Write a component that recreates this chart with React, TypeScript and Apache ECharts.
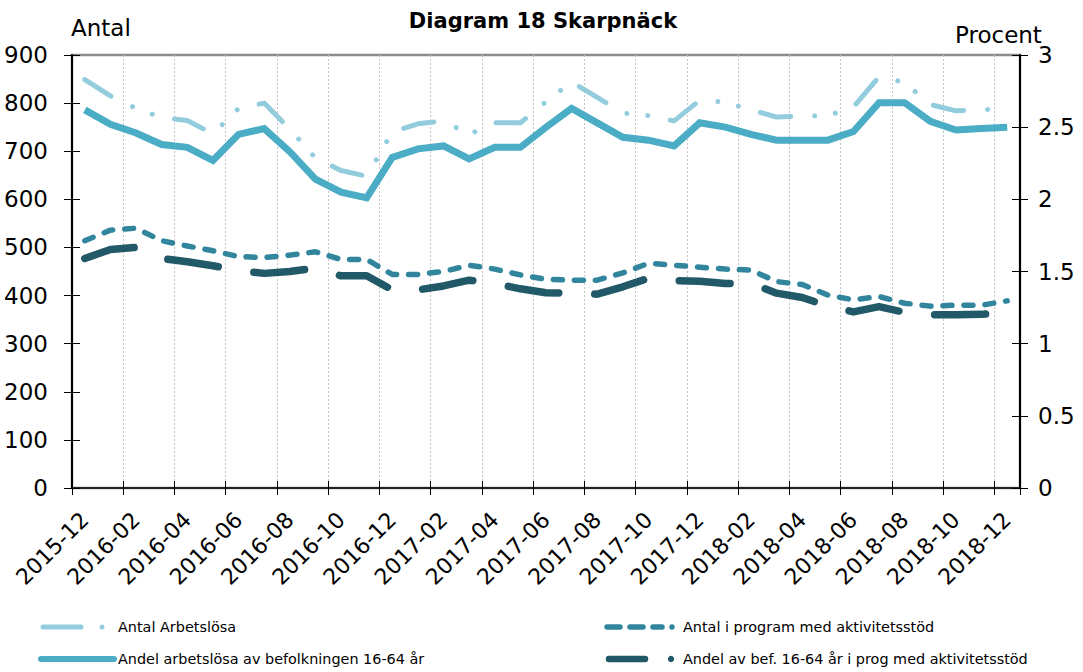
import React, { useEffect, useRef } from "react";
import * as echarts from "echarts";

const months = [
  "2015-12", "2016-01", "2016-02", "2016-03", "2016-04", "2016-05", "2016-06", "2016-07", "2016-08", "2016-09",
  "2016-10", "2016-11", "2016-12", "2017-01", "2017-02", "2017-03", "2017-04", "2017-05", "2017-06", "2017-07",
  "2017-08", "2017-09", "2017-10", "2017-11", "2017-12", "2018-01", "2018-02", "2018-03", "2018-04", "2018-05",
  "2018-06", "2018-07", "2018-08", "2018-09", "2018-10", "2018-11", "2018-12",
];

const antalArbetslosa = [
  849, 815, 789, 770, 764, 736, 789, 800, 746, 686, 660, 648, 740, 757, 763, 735, 759, 759, 803, 844,
  812, 779, 774, 763, 806, 802, 786, 771, 773, 774, 792, 855, 843, 797, 784, 786, 789,
];

const antalIProgram = [
  514, 536, 540, 514, 503, 493, 481, 479, 484, 491, 475, 475, 444, 444, 450, 463, 455, 443, 434, 432,
  432, 447, 467, 463, 459, 455, 453, 429, 423, 401, 391, 398, 384, 378, 380, 380, 389,
];

const andelArbetslosa = [
  2.62, 2.52, 2.46, 2.38, 2.36, 2.27, 2.45, 2.49, 2.33, 2.14, 2.05, 2.01, 2.29, 2.35, 2.37, 2.28, 2.36, 2.36, 2.5, 2.63,
  2.53, 2.43, 2.41, 2.37, 2.53, 2.5, 2.45, 2.41, 2.41, 2.41, 2.47, 2.67, 2.67, 2.54, 2.48, 2.49, 2.5,
];

const andelIProgram = [
  1.59, 1.653, 1.667, 1.59, 1.567, 1.54, 1.507, 1.487, 1.5, 1.523, 1.47, 1.47, 1.373, 1.373, 1.4, 1.44, 1.417, 1.38, 1.353, 1.35,
  1.343, 1.394, 1.453, 1.437, 1.433, 1.417, 1.417, 1.35, 1.32, 1.26, 1.22, 1.257, 1.217, 1.2, 1.2, 1.203, 1.215,
];

const seriesNames = [
  "Antal Arbetslösa",
  "Andel arbetslösa av befolkningen 16-64 år",
  "Antal i program med aktivitetsstöd",
  "Andel av bef. 16-64 år i prog med aktivitetsstöd",
];

const COLORS = {
  light: "#93CDDD",
  mid: "#4BACC6",
  teal: "#31859C",
  dark: "#215968",
};

const FONT = "DejaVu Sans";
const LEGEND_FS = 14.4;

export default function App() {
  const ref = useRef<HTMLDivElement>(null);

  useEffect(() => {
    if (!ref.current) return;
    const chart = echarts.init(ref.current, undefined, { renderer: "svg" });

    const labelStyle = { fontFamily: FONT, fontSize: 23, color: "#000" };

    const option: any = {
      animation: false,
      backgroundColor: "#fff",
      grid: {
        left: 72,
        right: 63,
        top: 55,
        bottom: 184,
        show: true,
        borderColor: "#8c8c8c",
        borderWidth: 2.5,
        backgroundColor: "transparent",
      },
      xAxis: [
        {
          type: "category",
          data: months,
          boundaryGap: true,
          position: "bottom",
          axisLine: { show: true, lineStyle: { color: "#000", width: 1.5 } },
          axisTick: { show: true, interval: 1, length: 7, lineStyle: { color: "#000", width: 1 } },
          axisLabel: {
            interval: 1,
            rotate: 45,
            margin: 28,
            fontFamily: FONT,
            fontSize: 22,
            color: "#000",
          },
          splitLine: {
            show: true,
            interval: 1,
            lineStyle: { color: "#c4c4c4", width: 1, type: [2, 2] },
          },
        },
        {
          type: "category",
          data: months,
          boundaryGap: true,
          position: "bottom",
          axisLine: { show: false },
          axisTick: { show: true, inside: true, interval: 1, length: 7, lineStyle: { color: "#000", width: 1 } },
          axisLabel: { show: false },
          splitLine: { show: false },
        },
      ],
      yAxis: [
        {
          type: "value",
          position: "left",
          min: 0,
          max: 900,
          interval: 100,
          axisLine: { show: true, lineStyle: { color: "#000", width: 2 } },
          axisTick: { show: true, length: 8, lineStyle: { color: "#000", width: 1 } },
          axisLabel: { ...labelStyle, margin: 24 },
          splitLine: { show: false },
        },
        {
          type: "value",
          position: "right",
          min: 0,
          max: 3,
          interval: 0.5,
          axisLine: { show: true, lineStyle: { color: "#000", width: 2 } },
          axisTick: { show: true, length: 8, lineStyle: { color: "#000", width: 1 } },
          axisLabel: { ...labelStyle, margin: 18 },
          splitLine: { show: false },
        },
        {
          type: "value",
          position: "left",
          min: 0,
          max: 900,
          interval: 100,
          axisLine: { show: false },
          axisTick: { show: true, inside: true, length: 8, lineStyle: { color: "#000", width: 1 } },
          axisLabel: { show: false },
          splitLine: { show: false },
        },
        {
          type: "value",
          position: "right",
          min: 0,
          max: 3,
          interval: 0.5,
          axisLine: { show: false },
          axisTick: { show: true, inside: true, length: 8, lineStyle: { color: "#000", width: 1 } },
          axisLabel: { show: false },
          splitLine: { show: false },
        },
      ],
      series: [
        {
          name: seriesNames[0],
          type: "line",
          xAxisIndex: 0,
          yAxisIndex: 0,
          data: antalArbetslosa,
          symbol: "none",
          z: 3,
          lineStyle: {
            color: COLORS.light,
            width: 5,
            type: [31, 24, 0.01, 21, 0.01, 23],
            cap: "round",
            join: "round",
          },
        },
        {
          name: seriesNames[1],
          type: "line",
          xAxisIndex: 0,
          yAxisIndex: 1,
          data: andelArbetslosa,
          symbol: "none",
          z: 4,
          lineStyle: { color: COLORS.mid, width: 7, cap: "butt", join: "miter" },
        },
        {
          name: seriesNames[2],
          type: "line",
          xAxisIndex: 0,
          yAxisIndex: 0,
          data: antalIProgram,
          symbol: "none",
          z: 3,
          lineStyle: { color: COLORS.teal, width: 5.5, type: [9, 12], cap: "round", join: "round" },
        },
        {
          name: seriesNames[3],
          type: "line",
          xAxisIndex: 0,
          yAxisIndex: 1,
          data: andelIProgram,
          symbol: "none",
          z: 4,
          lineStyle: { color: COLORS.dark, width: 7.5, type: [51, 36], cap: "round", join: "round" },
        },
      ],
      graphic: [
        {
          type: "text",
          x: 543,
          y: 21,
          style: {
            text: "Diagram 18 Skarpnäck",
            fontFamily: FONT,
            fontSize: 21,
            fontWeight: "bold",
            fill: "#000",
            align: "center",
            verticalAlign: "middle",
          },
        },
        {
          type: "text",
          x: 71,
          y: 28,
          style: { text: "Antal", fontFamily: FONT, fontSize: 23, fill: "#000", align: "left", verticalAlign: "middle" },
        },
        {
          type: "text",
          x: 955,
          y: 35,
          style: { text: "Procent", fontFamily: FONT, fontSize: 23, fill: "#000", align: "left", verticalAlign: "middle" },
        },
        // Legend row 1, left
        {
          type: "line",
          shape: { x1: 43, y1: 627, x2: 81, y2: 627 },
          style: { stroke: COLORS.light, lineWidth: 5, lineCap: "round" },
        },
        { type: "circle", shape: { cx: 102, cy: 627, r: 2.5 }, style: { fill: COLORS.light } },
        {
          type: "text",
          x: 118,
          y: 627,
          style: { text: seriesNames[0], fontFamily: FONT, fontSize: LEGEND_FS, fill: "#000", align: "left", verticalAlign: "middle" },
        },
        // Legend row 1, right
        {
          type: "line",
          shape: { x1: 607, y1: 627, x2: 620, y2: 627 },
          style: { stroke: COLORS.teal, lineWidth: 5.5, lineCap: "round" },
        },
        {
          type: "line",
          shape: { x1: 630, y1: 627, x2: 643, y2: 627 },
          style: { stroke: COLORS.teal, lineWidth: 5.5, lineCap: "round" },
        },
        {
          type: "line",
          shape: { x1: 653, y1: 627, x2: 662, y2: 627 },
          style: { stroke: COLORS.teal, lineWidth: 5.5, lineCap: "round" },
        },
        { type: "circle", shape: { cx: 672, cy: 627, r: 2.8 }, style: { fill: COLORS.teal } },
        {
          type: "text",
          x: 683,
          y: 627,
          style: { text: seriesNames[2], fontFamily: FONT, fontSize: LEGEND_FS, fill: "#000", align: "left", verticalAlign: "middle" },
        },
        // Legend row 2, left
        {
          type: "line",
          shape: { x1: 41, y1: 659, x2: 114, y2: 659 },
          style: { stroke: COLORS.mid, lineWidth: 6, lineCap: "round" },
        },
        {
          type: "text",
          x: 118,
          y: 659,
          style: { text: seriesNames[1], fontFamily: FONT, fontSize: LEGEND_FS, fill: "#000", align: "left", verticalAlign: "middle" },
        },
        // Legend row 2, right
        {
          type: "line",
          shape: { x1: 609, y1: 659, x2: 645, y2: 659 },
          style: { stroke: COLORS.dark, lineWidth: 6.5, lineCap: "round" },
        },
        { type: "circle", shape: { cx: 671, cy: 659, r: 3.2 }, style: { fill: COLORS.dark } },
        {
          type: "text",
          x: 683,
          y: 659,
          style: { text: seriesNames[3], fontFamily: FONT, fontSize: LEGEND_FS, fill: "#000", align: "left", verticalAlign: "middle" },
        },
      ],
    };

    chart.setOption(option);
    return () => {
      chart.dispose();
    };
  }, []);

  return (
    <div
      ref={ref}
      style={{ position: "fixed", left: 0, top: 0, width: 1083, height: 672, background: "#fff" }}
    />
  );
}
